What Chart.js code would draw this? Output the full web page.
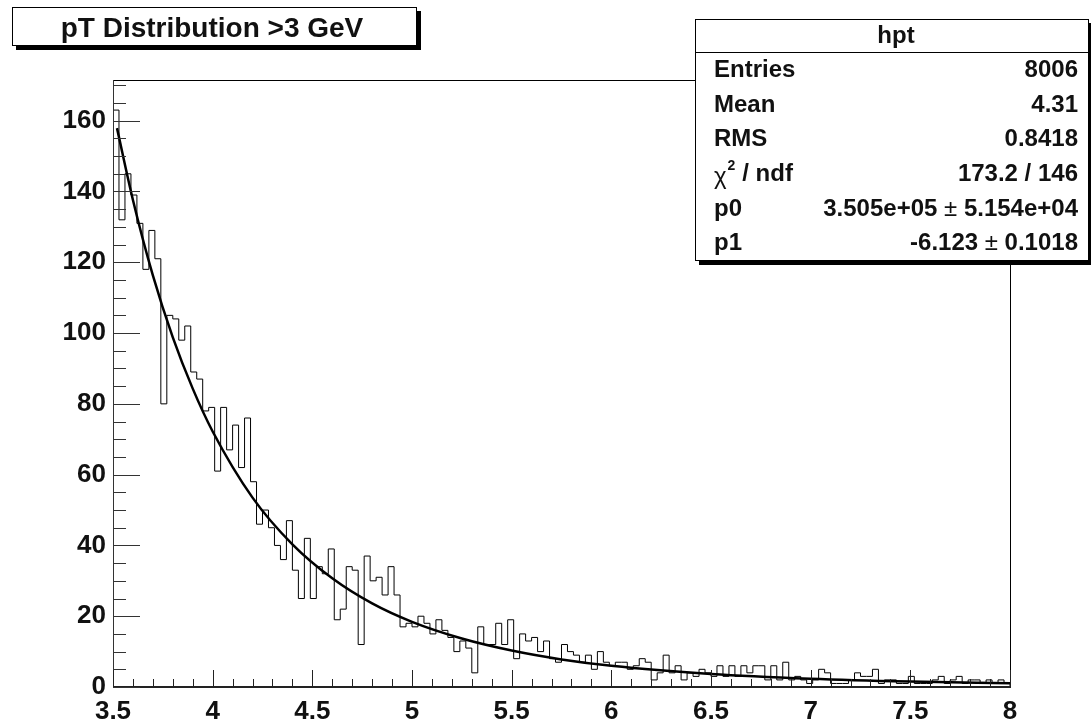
<!DOCTYPE html>
<html>
<head>
<meta charset="utf-8">
<title>pT Distribution &gt;3 GeV</title>
<script src="https://cdn.jsdelivr.net/npm/chart.js@4.4.1/dist/chart.umd.min.js"></script>
<style>
  html, body { margin: 0; padding: 0; background: #fff; }
  #wrap { position: relative; width: 1091px; height: 721px; }
</style>
</head>
<body>
<div id="wrap"><canvas id="hptChart"></canvas></div>
<script>
// histogram "hpt": 150 bins of 0.03 GeV between 3.5 and 8
var xMin = 3.5;
var xMax = 8;
var binWidth = 0.03;
var yMax = 171.5;
var counts = [
  163, 132, 145, 139, 131, 118, 129, 121, 80, 105,
  104, 98, 102, 89, 87, 78, 79, 61, 79, 67,
  74, 62, 76, 58, 46, 50, 45, 40, 36, 47,
  33, 25, 42, 25, 34, 32, 39, 19, 22, 34,
  33, 12, 37, 30, 31, 26, 34, 26, 17, 18,
  17, 20, 18, 15, 19, 16, 14, 10, 13, 11,
  4, 17, 12, 12, 18, 12, 19, 8, 15, 13,
  14, 10, 13, 8, 7, 12, 10, 9, 7, 9,
  5, 10, 7, 6, 7, 7, 5, 6, 8, 7,
  2, 4, 9, 4, 6, 2, 4, 3, 5, 4,
  3, 6, 3, 6, 3, 6, 4, 6, 6, 2,
  6, 2, 7, 2, 3, 2, 1, 2, 5, 4,
  1, 1, 1, 2, 4, 3, 3, 5, 1, 2,
  2, 1, 1, 3, 1, 1, 1, 2, 3, 1,
  2, 3, 1, 2, 2, 1, 2, 1, 2, 1
];

// fitted curve, points
var fitX = [3.52, 3.6, 3.7, 3.8, 3.9, 4.0, 4.2, 4.4, 4.6, 4.8, 5.0, 5.25, 5.5, 5.75, 6.0, 6.5, 7.0, 7.5, 8.0];
var fitY = [157.9, 137.6, 116.3, 98.8, 84.3, 72.2, 53.5, 40.3, 30.7, 23.6, 18.4, 13.7, 10.3, 7.8, 6.0, 3.7, 2.35, 1.54, 1.04];

// axis labels
var xTicks = [3.5, 4, 4.5, 5, 5.5, 6, 6.5, 7, 7.5, 8];
var yTicks = [0, 20, 40, 60, 80, 100, 120, 140, 160];

// texts
var titleText = "pT Distribution >3 GeV";
var statTitle = "hpt";
var statNames = ["Entries", "Mean", "RMS", "chi2", "p0", "p1"];
var statValues = ["8006", "4.31", "0.8418", "173.2 / 146", "3.505e+05 \u00b1 5.154e+04", "-6.123 \u00b1 0.1018"];

var fontFamily = "'Liberation Sans', Arial, Helvetica, sans-serif";

// build the step line of the histogram
var histPoints = [{ x: xMin, y: 0 }];
counts.forEach(function(c, i) {
  histPoints.push({ x: xMin + i * binWidth, y: c });
});
histPoints.push({ x: xMax, y: counts[counts.length - 1] });
histPoints.push({ x: xMax, y: 0 });

var fitPoints = fitX.map(function(x, i) { return { x: x, y: fitY[i] }; });

function hline(ctx, x1, x2, y) {
  ctx.beginPath(); ctx.moveTo(x1, y); ctx.lineTo(x2, y); ctx.stroke();
}
function vline(ctx, x, y1, y2) {
  ctx.beginPath(); ctx.moveTo(x, y1); ctx.lineTo(x, y2); ctx.stroke();
}

// draws a box with the ROOT style shadow
function shadowBox(ctx, x, y, w, h, sh) {
  ctx.fillStyle = "#000";
  ctx.fillRect(x + sh, y + sh, w, h);
  ctx.fillStyle = "#fff";
  ctx.fillRect(x, y, w, h);
  ctx.strokeStyle = "#000";
  ctx.lineWidth = 1;
  ctx.strokeRect(x + 0.5, y + 0.5, w - 1, h - 1);
}

// value text where the ± sign is not bold, drawn right aligned
function drawValue(ctx, text, right, y) {
  var parts = text.split("\u00b1");
  var bold = "bold 24px " + fontFamily;
  var plain = "24px " + fontFamily;
  if (parts.length === 1) {
    ctx.font = bold;
    ctx.textAlign = "right";
    ctx.fillText(text, right, y);
    return;
  }
  ctx.textAlign = "left";
  ctx.font = bold;
  var w1 = ctx.measureText(parts[0]).width;
  var w3 = ctx.measureText(parts[1]).width;
  ctx.font = plain;
  var w2 = ctx.measureText("\u00b1").width;
  var x = right - w1 - w2 - w3;
  ctx.font = bold;
  ctx.fillText(parts[0], x, y);
  ctx.font = plain;
  ctx.fillText("\u00b1", x + w1, y);
  ctx.font = bold;
  ctx.fillText(parts[1], x + w1 + w2, y);
}

var rootStyle = {
  id: "rootStyle",
  afterDraw: function(chart) {
    var ctx = chart.ctx;
    var a = chart.chartArea;
    var xs = chart.scales.x;
    var ys = chart.scales.y;
    ctx.save();

    // frame
    ctx.strokeStyle = "#000";
    ctx.lineWidth = 1;
    ctx.strokeRect(a.left + 0.5, a.top + 0.5, a.right - a.left, a.bottom - a.top);
    ctx.strokeStyle = "#333";
    vline(ctx, a.left + 0.5, a.top, a.bottom);

    // x axis with inward ticks
    ctx.strokeStyle = "#222";
    ctx.lineWidth = 2;
    hline(ctx, a.left, a.right + 1, a.bottom);
    ctx.lineWidth = 1;
    for (var k = 0; k <= 45; k++) {
      var px = Math.round(xs.getPixelForValue(xMin + k * 0.1)) + 0.5;
      var len = (k % 5 === 0) ? 17 : 8;
      vline(ctx, px, a.bottom, a.bottom - len);
    }

    // y axis ticks, minor every 5
    ctx.strokeStyle = "#333";
    for (var v = 0; v <= yMax; v += 5) {
      var py = Math.round(ys.getPixelForValue(v)) + 0.5;
      var tl = (v % 20 === 0) ? 27 : 13;
      hline(ctx, a.left, a.left + tl, py);
    }

    // title box
    shadowBox(ctx, 12, 7, 405, 39, 4);
    ctx.fillStyle = "#111";
    ctx.font = "bold 28px " + fontFamily;
    ctx.textAlign = "center";
    ctx.textBaseline = "alphabetic";
    ctx.fillText(titleText, 212, 37);

    // statistics box
    var bx = 695, by = 19, bw = 394, bh = 242;
    shadowBox(ctx, bx, by, bw, bh, 4);
    ctx.strokeStyle = "#000";
    ctx.lineWidth = 1;
    hline(ctx, bx, bx + bw, 52.5);
    ctx.fillStyle = "#111";
    ctx.font = "bold 24px " + fontFamily;
    ctx.textAlign = "center";
    ctx.textBaseline = "middle";
    ctx.fillText(statTitle, 896, 36);

    var rowH = (by + bh - 53) / statNames.length;
    statNames.forEach(function(name, i) {
      var cy = 53 + rowH * (i + 0.5);
      ctx.textBaseline = "middle";
      ctx.textAlign = "left";
      if (name === "chi2") {
        ctx.font = "24px " + fontFamily;
        ctx.fillText("\u03c7", 714, cy + 3);
        var wc = ctx.measureText("\u03c7").width;
        ctx.font = "bold 14px " + fontFamily;
        ctx.fillText("2", 714 + wc + 1, cy - 8);
        ctx.font = "bold 24px " + fontFamily;
        ctx.fillText(" / ndf", 714 + wc + 9, cy);
      } else {
        ctx.font = "bold 24px " + fontFamily;
        ctx.fillText(name, 714, cy);
      }
      drawValue(ctx, statValues[i], 1078, cy);
    });

    ctx.restore();
  }
};

var tickFont = { family: fontFamily, size: 26, weight: "bold" };

new Chart(document.getElementById("hptChart").getContext("2d"), {
  type: "line",
  data: {
    datasets: [{
      label: "hpt",
      data: histPoints,
      stepped: "before",
      borderColor: "#000",
      borderWidth: 1,
      pointRadius: 0,
      fill: false,
      tension: 0
    }, {
      label: "fit",
      data: fitPoints,
      borderColor: "#000",
      borderWidth: 2.5,
      pointRadius: 0,
      fill: false,
      cubicInterpolationMode: "monotone"
    }]
  },
  options: {
    responsive: true,
    maintainAspectRatio: false,
    animation: false,
    layout: { padding: { top: 80, right: 81, bottom: 0, left: 0 } },
    plugins: {
      legend: { display: false },
      tooltip: { enabled: false },
      title: { display: false }
    },
    scales: {
      x: {
        type: "linear",
        min: xMin,
        max: xMax,
        grid: { display: false, drawTicks: false },
        border: { display: false },
        afterBuildTicks: function(scale) {
          scale.ticks = xTicks.map(function(v) { return { value: v }; });
        },
        afterFit: function(scale) { scale.height = 34; },
        ticks: {
          color: "#111",
          font: tickFont,
          padding: 9,
          autoSkip: false,
          maxRotation: 0,
          callback: function(value) { return String(value); }
        }
      },
      y: {
        type: "linear",
        min: 0,
        max: yMax,
        grid: { display: false, drawTicks: false },
        border: { display: false },
        afterBuildTicks: function(scale) {
          scale.ticks = yTicks.map(function(v) { return { value: v }; });
        },
        afterFit: function(scale) { scale.width = 113; },
        ticks: {
          color: "#111",
          font: tickFont,
          padding: 7,
          callback: function(value) { return String(value); }
        }
      }
    }
  },
  plugins: [rootStyle]
});
</script>
</body>
</html>
